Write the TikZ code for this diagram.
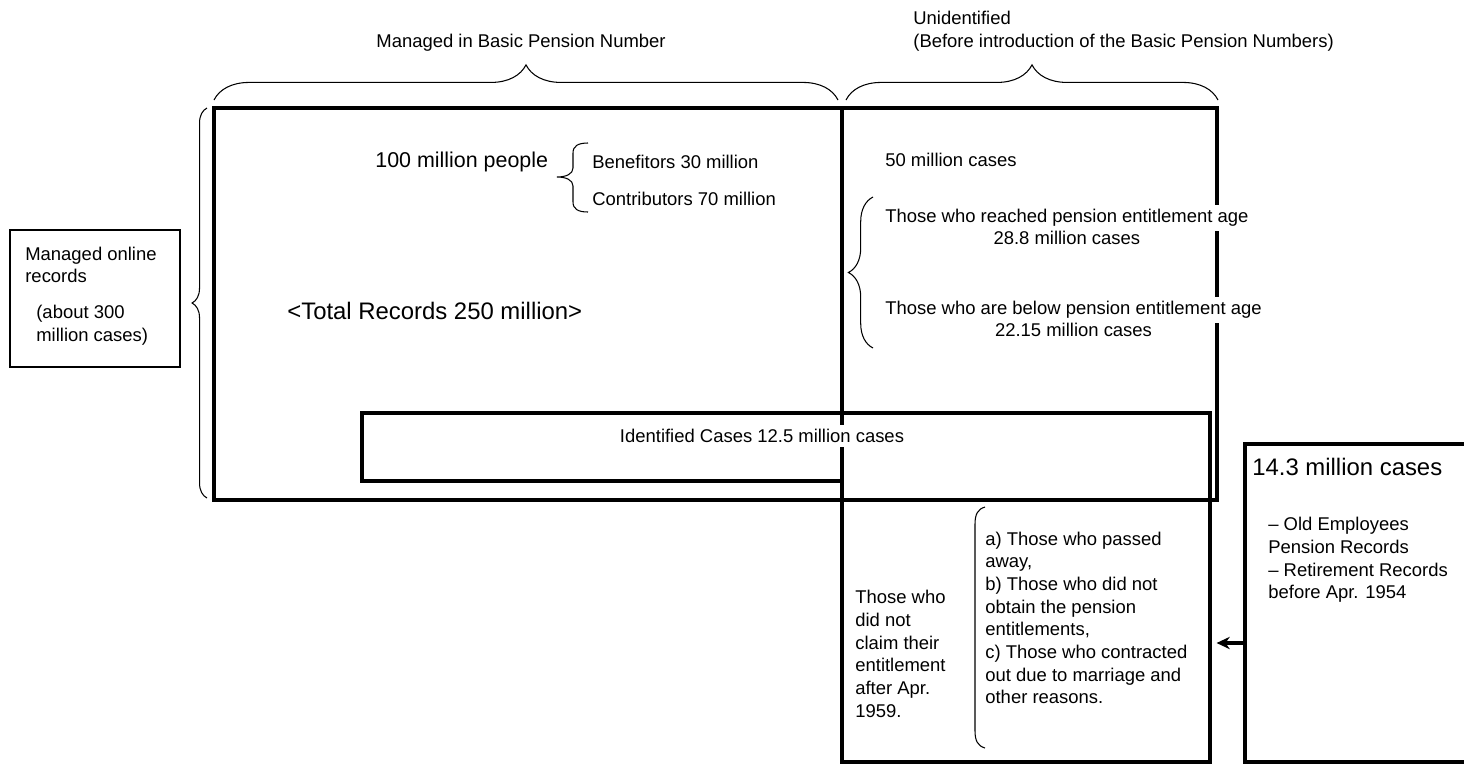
\documentclass[tikz,border=0pt]{standalone}
\usepackage{fontspec}
\setmainfont{Liberation Sans}
\usetikzlibrary{positioning,fit,decorations.pathreplacing,arrows.meta}

\begin{document}
\begin{tikzpicture}[
    x=0.02cm, y=-0.02cm,
    font=\fontsize{10.5pt}{12.9pt}\selectfont,
    heavy/.style={
        draw,
        line width=2.5pt
    },
    frame/.style={
        heavy,
        inner sep=0pt
    },
    thinframe/.style={
        draw,
        line width=0.7pt,
        inner sep=0pt
    },
    curly/.style={
        decorate,
        decoration={brace, amplitude=#1},
        line width=0.6pt
    },
    bracket/.style={line width=0.6pt},
    txt/.style={inner sep=0pt, align=left},
    mask/.style={fill=white, inner sep=2.5pt},
    big/.style={font=\fontsize{13.6pt}{16pt}\selectfont},
    arrow/.style={-{Stealth[length=7.5pt,width=7pt]}, line width=1.8pt}
]

\useasboundingbox (0,0) rectangle (1464,765);

% boxes
\coordinate (totNW) at (214,108);
\coordinate (totSE) at (1217,500);
\node[frame, fit=(totNW)(totSE)] (total) {};

\coordinate (divtop) at (842,108);
\coordinate (divbot) at (842,500);
\draw[heavy] (divtop) -- (divbot);

\draw[heavy]
    (362,413) -- (1210,413) -- (1210,500) -- (842,500)
    -- (842,481) -- (362,481) -- cycle;

\coordinate (unNW) at (842,500);
\coordinate (unSE) at (1210,762);
\node[frame, fit=(unNW)(unSE)] (unclaimedbox) {};

\coordinate (oldNW) at (1245,444);
\coordinate (oldSE) at (1495,762);
\node[frame, fit=(oldNW)(oldSE)] (oldbox) {};

\coordinate (onNW) at (10,230);
\coordinate (onSE) at (180,367);
\node[thinframe, fit=(onNW)(onSE)] (onlinebox) {};

% braces
\draw[curly=20pt] (214,100) -- (838,100);
\draw[curly=20pt] (846,100) -- (1218,100);
\draw[curly=8.5pt] (207,498) -- (207,108);
\draw[curly=14pt] (873,348) -- (873,197);

\draw[bracket]
    (588,143) .. controls (578,143) and (573,146) .. (573,153)
    -- (573,168) .. controls (573,174) and (566,177) .. (557,177)
    .. controls (566,177) and (573,180) .. (573,186)
    -- (573,202) .. controls (573,209) and (578,212) .. (588,212);

\draw[bracket]
    (985,507) .. controls (978,509) and (975,514) .. (975,524)
    -- (975,731) .. controls (975,741) and (978,746) .. (985,748);

% top labels
\node[txt] (mgdlabel) at (521,43) {Managed in Basic Pension Number};
\node[txt, anchor=west] (unidlabel) at (913,18) {Unidentified};
\node[txt, anchor=west] (beforelabel) at (913,43)
    {(Before introduction of the Basic Pension Numbers)};

% left side
\node[txt, anchor=west] (onlineA) at (25,265) {Managed online\\records};
\node[txt, anchor=west] (onlineB) at (36,325) {(about 300\\million cases)};

% identified part
\node[txt, anchor=west, font=\fontsize{12.2pt}{14pt}\selectfont] (people) at (375,162)
    {100 million people};
\node[txt, anchor=west] (benef) at (592,162) {Benefitors 30 million};
\node[txt, anchor=west] (contrib) at (592,199) {Contributors 70 million};
\node[txt, big, anchor=west] (totalrec) at (287,311) {<Total Records 250 million>};

% unidentified part
\node[txt, anchor=west] (fifty) at (885,160) {50 million cases};
\node[txt, mask, anchor=west] (reachA) at (880.6,218)
    {Those who reached pension entitlement age};
\node[txt, anchor=base] (reachB) at ([yshift=-12.5pt]reachA.base) {28.8 million cases};
\node[txt, mask, anchor=west] (belowA) at (880.6,310)
    {Those who are below pension entitlement age};
\node[txt, anchor=base] (belowB) at ([yshift=-12.5pt]belowA.base) {22.15 million cases};

\node[txt, mask] (identified) at (762,436) {Identified Cases 12.5 million cases};

% lower box
\node[txt, anchor=west] (unclaimed) at (855,654)
    {Those who\\did not\\claim their\\entitlement\\after Apr.\\1959.};
\node[txt, anchor=west] (reasons) at (985,618)
    {a) Those who passed\\away,\\b) Those who did not\\obtain the pension\\entitlements,\\
     c) Those who contracted\\out due to marriage and\\other reasons.};

% old records
\node[txt, big, anchor=west] (oldtitle) at (1252,467) {14.3 million cases};
\node[txt, anchor=west] (oldlist) at (1268,560)
    {– Old Employees\\Pension Records\\– Retirement Records\\before Apr. 1954};

\coordinate (arrowlvl) at (1230,643);
\draw[arrow, shorten >=2.5pt] (oldbox.west |- arrowlvl) -- (unclaimedbox.east |- arrowlvl);

\end{tikzpicture}
\end{document}
